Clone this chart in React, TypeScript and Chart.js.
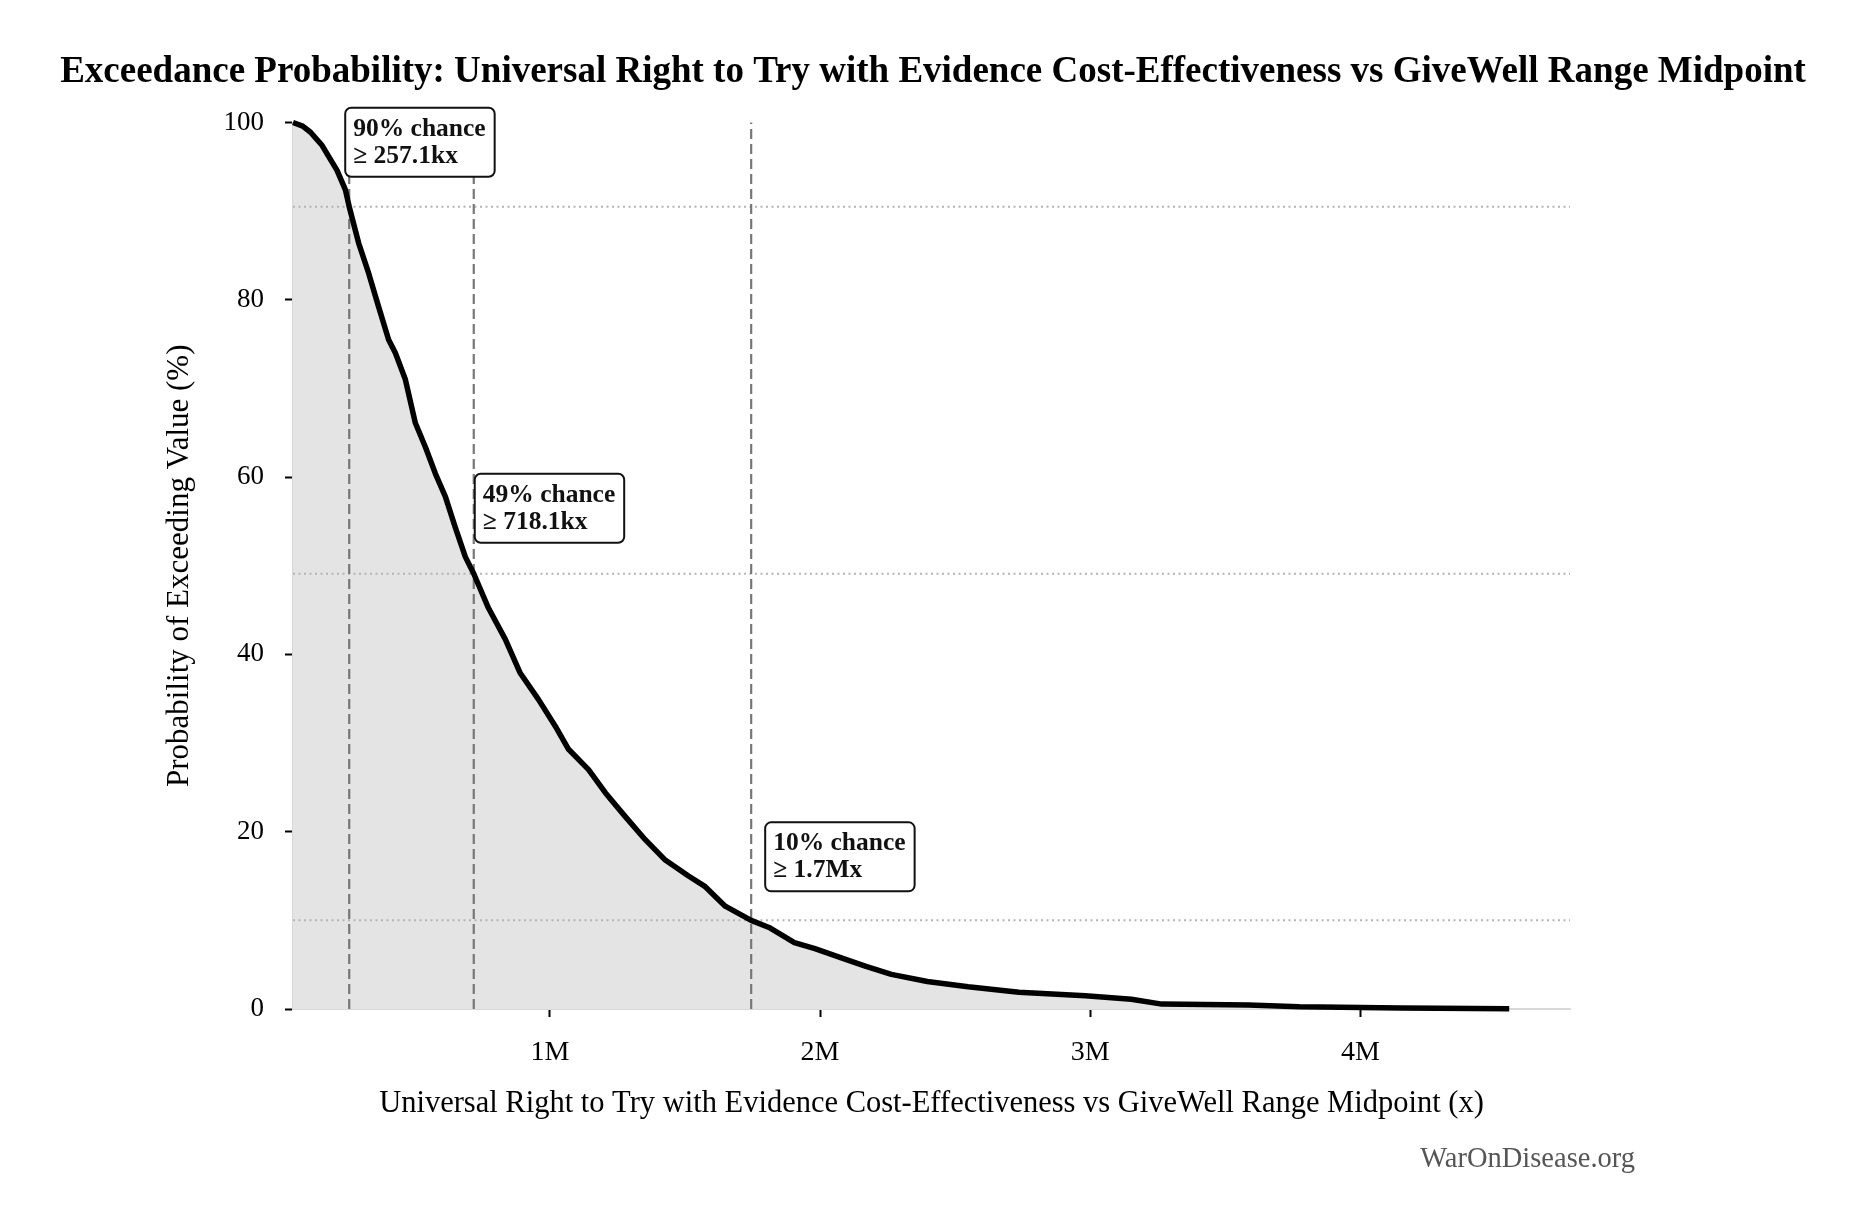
import React, { useEffect, useRef } from "react";
import { Chart, registerables } from "chart.js";

Chart.register(...registerables);

// exceedance curve
const thresholdValues = [
  49000, 85000, 114000, 157000, 212000, 243000, 257100, 292000, 329000, 366000,
  403000, 428000, 465000, 502000, 539000, 576000, 613000, 650000, 687000, 718100,
  773000, 835000, 890000, 958000, 1020000, 1069000, 1143000, 1205000, 1279000, 1353000,
  1427000, 1513000, 1575000, 1649000, 1745000, 1811000, 1905000, 1981000, 2076000, 2170000,
  2264000, 2397000, 2548000, 2736000, 2982000, 3152000, 3265000, 3585000, 3774000, 4151000,
  4551000,
];
const exceedProbability = [
  100, 99.6, 98.9, 97.4, 94.6, 92.4, 90.5, 86.4, 83.0, 79.2,
  75.5, 74.0, 71.0, 66.1, 63.4, 60.4, 57.8, 54.3, 51.0, 49.1,
  45.2, 41.7, 37.9, 34.9, 31.9, 29.3, 27.0, 24.4, 21.7, 19.1,
  16.8, 15.0, 13.8, 11.6, 10.0, 9.2, 7.5, 6.8, 5.8, 4.8,
  3.9, 3.1, 2.5, 1.9, 1.5, 1.1, 0.55, 0.45, 0.25, 0.12,
  0.02,
];

const xTicks = [1000000, 2000000, 3000000, 4000000];
const yTicks = [0, 20, 40, 60, 80, 100];

const markerValues = [257100, 718100, 1745000];
const markerProbs = [90.5, 49.1, 10.0];
const markerLabels = [
  ["90% chance", "≥ 257.1kx"],
  ["49% chance", "≥ 718.1kx"],
  ["10% chance", "≥ 1.7Mx"],
];
// box placement relative to the marker point (px)
const boxOffsets = [
  [-4, -30],
  [1, -31],
  [14, -29],
];

const TITLE = "Exceedance Probability: Universal Right to Try with Evidence Cost-Effectiveness vs GiveWell Range Midpoint";
const SERIF = "'Liberation Serif', 'Times New Roman', serif";

const overlayPlugin = {
  id: "overlay",
  beforeDatasetsDraw(chart: any) {
    const { ctx, chartArea, scales } = chart;
    const x = scales.x;
    const y = scales.y;
    ctx.save();
    // dotted probability levels
    ctx.strokeStyle = "#b4b4b4";
    ctx.lineWidth = 2;
    ctx.setLineDash([2, 3.5]);
    markerProbs.forEach((p) => {
      const py = y.getPixelForValue(p);
      ctx.beginPath();
      ctx.moveTo(chartArea.left, py);
      ctx.lineTo(chartArea.right, py);
      ctx.stroke();
    });
    // dashed thresholds
    ctx.strokeStyle = "#777777";
    ctx.lineWidth = 2.2;
    ctx.setLineDash([10, 5]);
    markerValues.forEach((v) => {
      const px = x.getPixelForValue(v);
      ctx.beginPath();
      ctx.moveTo(px, y.getPixelForValue(0));
      ctx.lineTo(px, y.getPixelForValue(100));
      ctx.stroke();
    });
    ctx.restore();
  },
  afterDatasetsDraw(chart: any) {
    const { ctx, scales } = chart;
    ctx.save();
    ctx.font = `bold 25.5px ${SERIF}`;
    ctx.textBaseline = "alphabetic";
    markerValues.forEach((v, i) => {
      const px = scales.x.getPixelForValue(v);
      const py = scales.y.getPixelForValue(markerProbs[i]);
      const lines = markerLabels[i];
      const w = Math.max(...lines.map((t) => ctx.measureText(t).width)) + 17;
      const h = 69;
      const left = px + boxOffsets[i][0];
      const bottom = py + boxOffsets[i][1];
      const top = bottom - h;
      ctx.beginPath();
      ctx.roundRect(left, top, w, h, 6);
      ctx.fillStyle = "#ffffff";
      ctx.fill();
      ctx.lineWidth = 2;
      ctx.strokeStyle = "#111111";
      ctx.stroke();
      ctx.fillStyle = "#111111";
      ctx.fillText(lines[0], left + 8, top + 28);
      ctx.fillText(lines[1], left + 8, top + 55);
    });
    ctx.restore();
  },
  afterDraw(chart: any) {
    const { ctx } = chart;
    ctx.save();
    ctx.fillStyle = "#000000";
    ctx.font = `bold 37px ${SERIF}`;
    ctx.textAlign = "center";
    ctx.textBaseline = "alphabetic";
    ctx.fillText(TITLE, 933, 82);
    ctx.font = `28.5px ${SERIF}`;
    ctx.fillStyle = "#555555";
    ctx.textAlign = "right";
    ctx.textBaseline = "middle";
    ctx.fillText("WarOnDisease.org", 1635, 1160);
    ctx.restore();
  },
};

const App = () => {
  const canvasRef = useRef<HTMLCanvasElement>(null);
  const chartRef = useRef<Chart | null>(null);

  useEffect(() => {
    document.body.style.margin = "0";
    if (!canvasRef.current) return;

    chartRef.current?.destroy();

    chartRef.current = new Chart(canvasRef.current, {
      type: "line",
      data: {
        datasets: [
          {
            data: thresholdValues.map((v, i) => ({ x: v, y: exceedProbability[i] })),
            borderColor: "#000000",
            borderWidth: 5.5,
            backgroundColor: "#e4e4e4",
            fill: "origin",
            pointRadius: 0,
            tension: 0,
            borderJoinStyle: "round",
            clip: false as any,
          },
        ],
      },
      options: {
        animation: false,
        responsive: false,
        devicePixelRatio: 1,
        layout: { padding: { left: 0, right: 293, top: 122.5, bottom: 0 } },
        plugins: {
          legend: { display: false },
          tooltip: { enabled: false },
          filler: { drawTime: "beforeDatasetsDraw" },
          title: { display: false },
        },
        scales: {
          x: {
            type: "linear",
            min: 49000,
            max: 4776000,
            afterFit: (s: any) => {
              s.height = 221;
            },
            afterBuildTicks: (s: any) => {
              s.ticks = xTicks.map((v) => ({ value: v }));
            },
            ticks: {
              color: "#000000",
              font: { family: SERIF, size: 28 },
              padding: 19,
              maxRotation: 0,
              callback: (v: any) => `${Number(v) / 1000000}M`,
            },
            grid: {
              drawOnChartArea: false,
              drawTicks: true,
              tickLength: 8,
              tickWidth: 2,
              tickColor: "#000000",
            },
            border: { display: true, color: "#d8d8d8", width: 2 },
            title: {
              display: true,
              text: "Universal Right to Try with Evidence Cost-Effectiveness vs GiveWell Range Midpoint (x)",
              color: "#000000",
              font: { family: SERIF, size: 30.5 },
              padding: { top: 0, bottom: 108 },
            },
          },
          y: {
            min: 0,
            max: 100,
            afterFit: (s: any) => {
              s.width = 293;
            },
            afterBuildTicks: (s: any) => {
              s.ticks = yTicks.map((v) => ({ value: v }));
            },
            ticks: {
              color: "#000000",
              font: { family: SERIF, size: 27 },
              padding: 21,
            },
            grid: {
              drawOnChartArea: false,
              drawTicks: true,
              tickLength: 8,
              tickWidth: 2,
              tickColor: "#000000",
            },
            border: { display: true, color: "#d8d8d8", width: 2 },
            title: {
              display: true,
              text: "Probability of Exceeding Value (%)",
              color: "#000000",
              font: { family: SERIF, size: 31 },
              padding: { top: 161, bottom: 0 },
            },
          },
        },
      },
      plugins: [overlayPlugin],
    });

    return () => chartRef.current?.destroy();
  }, []);

  return (
    <div style={{ width: 1863, height: 1230, background: "#ffffff" }}>
      <canvas ref={canvasRef} width={1863} height={1230} style={{ display: "block" }} />
    </div>
  );
};

export default App;
